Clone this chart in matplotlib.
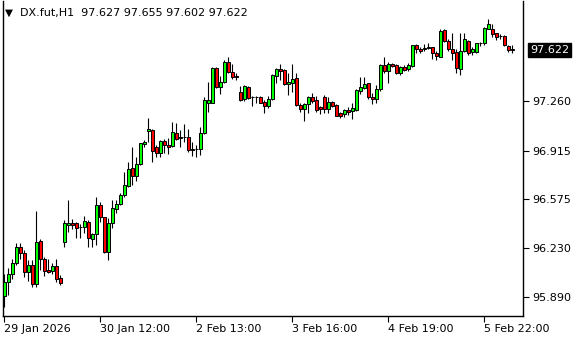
import matplotlib
matplotlib.use("Agg")
import matplotlib.pyplot as plt
import numpy as np

symbol = "DX.fut,H1"
opens = [95.896, 95.997, 96.048, 96.130, 96.238, 96.196, 96.067, 96.111, 95.977, 96.282,
         96.156, 96.079, 96.069, 96.107, 96.020, 96.277, 96.397, 96.408, 96.408, 96.378,
         96.378, 96.415, 96.294, 96.329, 96.534, 96.448, 96.203, 96.406, 96.509, 96.539,
         96.604, 96.668, 96.791, 96.740, 96.819, 96.962, 97.051, 97.060, 96.939, 96.901,
         96.985, 96.955, 96.948, 97.037, 97.002, 97.013, 97.009, 96.922, 96.925, 96.925,
         97.037, 97.252, 97.252, 97.492, 97.364, 97.394, 97.535, 97.464, 97.440, 97.324,
         97.275, 97.359, 97.291, 97.291, 97.289, 97.254, 97.231, 97.275, 97.441, 97.485,
         97.481, 97.380, 97.392, 97.422, 97.233, 97.210, 97.240, 97.289, 97.270, 97.219,
         97.289, 97.207, 97.254, 97.235, 97.177, 97.172, 97.200, 97.196, 97.200, 97.333,
         97.357, 97.387, 97.294, 97.277, 97.345, 97.516, 97.476, 97.523, 97.516, 97.457,
         97.499, 97.485, 97.509, 97.654, 97.630, 97.626, 97.633, 97.640, 97.598, 97.574,
         97.761, 97.686, 97.626, 97.609, 97.485, 97.616, 97.686, 97.609, 97.609, 97.668,
         97.668, 97.770, 97.766, 97.738, 97.719, 97.719, 97.649, 97.627]
highs = [96.051, 96.090, 96.153, 96.266, 96.266, 96.219, 96.149, 96.149, 96.492, 96.294,
         96.167, 96.153, 96.130, 96.153, 96.044, 96.429, 96.569, 96.436, 96.418, 96.401,
         96.460, 96.429, 96.336, 96.593, 96.553, 96.453, 96.441, 96.569, 96.569, 96.616,
         96.768, 96.838, 96.939, 96.873, 96.971, 96.990, 97.142, 97.067, 96.955, 96.990,
         96.997, 97.002, 97.119, 97.107, 97.060, 97.100, 97.067, 96.978, 96.955, 97.084,
         97.289, 97.399, 97.504, 97.504, 97.439, 97.551, 97.574, 97.523, 97.457, 97.369,
         97.373, 97.369, 97.298, 97.298, 97.298, 97.270, 97.298, 97.450, 97.492, 97.523,
         97.485, 97.462, 97.523, 97.457, 97.252, 97.247, 97.298, 97.317, 97.298, 97.228,
         97.305, 97.294, 97.266, 97.242, 97.189, 97.207, 97.219, 97.247, 97.345, 97.434,
         97.434, 97.392, 97.322, 97.376, 97.523, 97.570, 97.539, 97.532, 97.523, 97.509,
         97.516, 97.528, 97.658, 97.663, 97.640, 97.663, 97.668, 97.644, 97.616, 97.766,
         97.766, 97.696, 97.742, 97.626, 97.738, 97.742, 97.691, 97.640, 97.672, 97.679,
         97.780, 97.836, 97.803, 97.742, 97.733, 97.724, 97.656, 97.655]
lows = [95.817, 95.903, 96.013, 96.114, 96.153, 96.032, 96.004, 95.962, 95.962, 96.079,
        96.037, 96.060, 96.051, 95.997, 95.974, 96.242, 96.347, 96.366, 96.305, 96.301,
        96.336, 96.242, 96.242, 96.254, 96.418, 96.196, 96.149, 96.371, 96.476, 96.534,
        96.588, 96.663, 96.675, 96.705, 96.815, 96.939, 96.978, 96.838, 96.873, 96.873,
        96.901, 96.890, 96.939, 96.990, 96.939, 96.978, 96.908, 96.878, 96.873, 96.885,
        97.032, 97.189, 97.247, 97.352, 97.312, 97.387, 97.457, 97.415, 97.411, 97.263,
        97.266, 97.275, 97.228, 97.252, 97.247, 97.177, 97.212, 97.270, 97.392, 97.411,
        97.376, 97.305, 97.329, 97.228, 97.189, 97.126, 97.182, 97.252, 97.189, 97.172,
        97.177, 97.177, 97.219, 97.158, 97.142, 97.149, 97.165, 97.135, 97.196, 97.312,
        97.345, 97.275, 97.242, 97.247, 97.336, 97.457, 97.387, 97.504, 97.453, 97.446,
        97.476, 97.476, 97.504, 97.602, 97.602, 97.616, 97.626, 97.560, 97.550, 97.570,
        97.679, 97.616, 97.551, 97.462, 97.446, 97.609, 97.586, 97.586, 97.602, 97.649,
        97.656, 97.766, 97.714, 97.691, 97.696, 97.649, 97.609, 97.602]
closes = [95.997, 96.051, 96.130, 96.238, 96.196, 96.067, 96.111, 95.981, 96.273, 96.158,
          96.074, 96.062, 96.107, 96.018, 95.985, 96.406, 96.408, 96.397, 96.375, 96.379,
          96.420, 96.301, 96.329, 96.534, 96.448, 96.203, 96.406, 96.511, 96.541, 96.604,
          96.675, 96.787, 96.740, 96.819, 96.967, 96.976, 97.067, 96.915, 96.901, 96.983,
          96.955, 96.943, 97.046, 96.999, 97.013, 97.009, 96.920, 96.925, 96.924, 97.037,
          97.268, 97.270, 97.492, 97.364, 97.394, 97.539, 97.464, 97.429, 97.429, 97.270,
          97.369, 97.287, 97.290, 97.289, 97.252, 97.231, 97.277, 97.446, 97.485, 97.476,
          97.380, 97.399, 97.415, 97.233, 97.210, 97.240, 97.289, 97.263, 97.200, 97.207,
          97.207, 97.256, 97.228, 97.161, 97.158, 97.200, 97.189, 97.214, 97.340, 97.359,
          97.383, 97.289, 97.277, 97.345, 97.516, 97.476, 97.523, 97.509, 97.457, 97.499,
          97.481, 97.516, 97.654, 97.626, 97.616, 97.635, 97.644, 97.598, 97.576, 97.757,
          97.686, 97.626, 97.602, 97.492, 97.616, 97.696, 97.598, 97.626, 97.668, 97.672,
          97.773, 97.803, 97.733, 97.714, 97.717, 97.656, 97.621, 97.622]

y_ticks = [95.890, 96.230, 96.575, 96.915, 97.260]
x_tick_bars = [0, 24, 48, 72, 96, 120]
x_tick_labels = ["29 Jan 2026", "30 Jan 12:00", "2 Feb 13:00", "3 Feb 16:00",
                 "4 Feb 19:00", "5 Feb 22:00"]

W, H = 580, 340
fig = plt.figure(figsize=(W / 100, H / 100), dpi=100)
fig.patch.set_facecolor("white")
ax = fig.add_axes([3 / W, (H - 316) / H, 520 / W, 315 / H])
ax.set_facecolor("white")

o = np.array(opens); h = np.array(highs); l = np.array(lows); c = np.array(closes)
x = np.arange(len(o))
ax.vlines(x, l, h, color="black", linewidth=0.8, zorder=2)
up = c >= o
body_lo = np.minimum(o, c)
body_h = np.maximum(np.abs(c - o), 0.004)
ax.bar(x[up], body_h[up], bottom=body_lo[up], width=0.75, color="#00ff00",
       edgecolor="black", linewidth=0.7, zorder=3)
ax.bar(x[~up], body_h[~up], bottom=body_lo[~up], width=0.75, color="#ff0000",
       edgecolor="black", linewidth=0.7, zorder=3)

ax.set_xlim(-0.25, 129.75)
ax.set_ylim(95.756, 97.9645)

ax.spines["top"].set_visible(False)
for sp in ["left", "right", "bottom"]:
    ax.spines[sp].set_color("black")
    ax.spines[sp].set_linewidth(1.0)

ax.yaxis.tick_right()
ax.set_yticks(y_ticks)
ax.set_yticklabels([f"{v:.3f}" for v in y_ticks])
ax.tick_params(axis="y", direction="out", length=4, width=0.8, pad=3,
               labelsize=8, colors="black")
ax.set_xticks(x_tick_bars)
ax.set_xticklabels(x_tick_labels, ha="left")
ax.tick_params(axis="x", direction="out", length=4, width=0.8, pad=2,
               labelsize=8, colors="black")

# last price box
last = closes[-1]
ax.annotate(f"{last:.3f}", xy=(1.0, last), xycoords=("axes fraction", "data"),
            xytext=(5, 0), textcoords="offset points", ha="left", va="center",
            fontsize=8, color="white",
            bbox=dict(boxstyle="square,pad=0.2", fc="black", ec="black"),
            annotation_clip=False)

fig.text(5 / W, 1 - 13 / H, "\u25BC", fontsize=7.5, color="black", va="center", ha="left")
fig.text(20 / W, 1 - 13 / H,
         f"{symbol}  {opens[-1]:.3f} {highs[-1]:.3f} {lows[-1]:.3f} {closes[-1]:.3f}",
         fontsize=8, color="black", va="center", ha="left")

fig.savefig("out.png", dpi=100, facecolor="white")
